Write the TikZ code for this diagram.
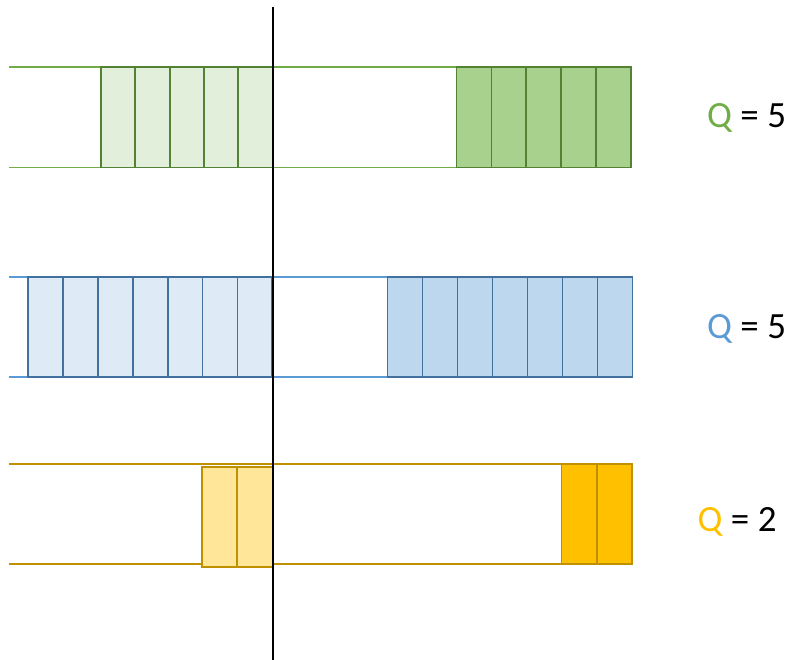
\documentclass[tikz,border=0pt]{standalone}
\usepackage{fontspec}
\setmainfont{Carlito}
\definecolor{gline}{HTML}{70AD47}
\definecolor{gdark}{HTML}{548235}
\definecolor{glight}{HTML}{E2EFDA}
\definecolor{gmid}{HTML}{A9D18E}
\definecolor{bline}{HTML}{5B9BD5}
\definecolor{bdark}{HTML}{41719C}
\definecolor{blight}{HTML}{DEEBF7}
\definecolor{bmid}{HTML}{BDD7EE}
\definecolor{yline}{HTML}{BF9000}
\definecolor{ylight}{HTML}{FFE699}
\definecolor{ymid}{HTML}{FFC000}
\begin{document}
\begin{tikzpicture}[x=1pt,y=-1pt,
  rail/.style={line width=1.8pt},
  cell/.style={line width=1.8pt},
  qlabel/.style={anchor=base west,font=\fontsize{37}{40}\selectfont,inner sep=0pt}]
\useasboundingbox (0,0) rectangle (792,660);
% green row
\draw[rail,gline] (9,67.3) -- (457,67.3);
\draw[rail,gline] (9,167.5) -- (457,167.5);
\foreach \i in {0,...,4}{
  \draw[cell,gdark,fill=glight] (101+34.3*\i,67.3) rectangle ++(34.3,100.2);
  \draw[cell,gdark,fill=gmid] (456.5+34.9*\i,67.3) rectangle ++(34.9,100.2);
}
% blue row
\draw[rail,bline] (9,277) -- (388,277);
\draw[rail,bline] (9,377.3) -- (388,377.3);
\foreach \i in {0,...,6}{
  \draw[cell,bdark,fill=blight] (28+34.9*\i,277) rectangle ++(34.9,100.3);
  \draw[cell,bdark,fill=bmid] (387.5+35*\i,277) rectangle ++(35,100.3);
}
% yellow row
\draw[rail,yline] (9,463.7) -- (562,463.7);
\draw[rail,yline] (9,564) -- (562,564);
\foreach \i in {0,1}{
  \draw[cell,yline,fill=ylight] (202+35.2*\i,466.7) rectangle ++(35.2,100);
  \draw[cell,yline,fill=ymid] (561.5+35.3*\i,463.7) rectangle ++(35.3,100.3);
}
% vertical axis
\coordinate (top) at (273,7);
\coordinate (bot) at (273,660);
\draw[line width=2.4pt,black] (top) -- (bot);
% labels
\node[qlabel] (q1) at (707,127.5) {\textcolor{gline}{Q} = 5};
\node[qlabel] (q2) at (707,338.5) {\textcolor{bline}{Q} = 5};
\node[qlabel] (q3) at (697.5,531) {\textcolor{ymid}{Q} = 2};
\end{tikzpicture}
\end{document}
